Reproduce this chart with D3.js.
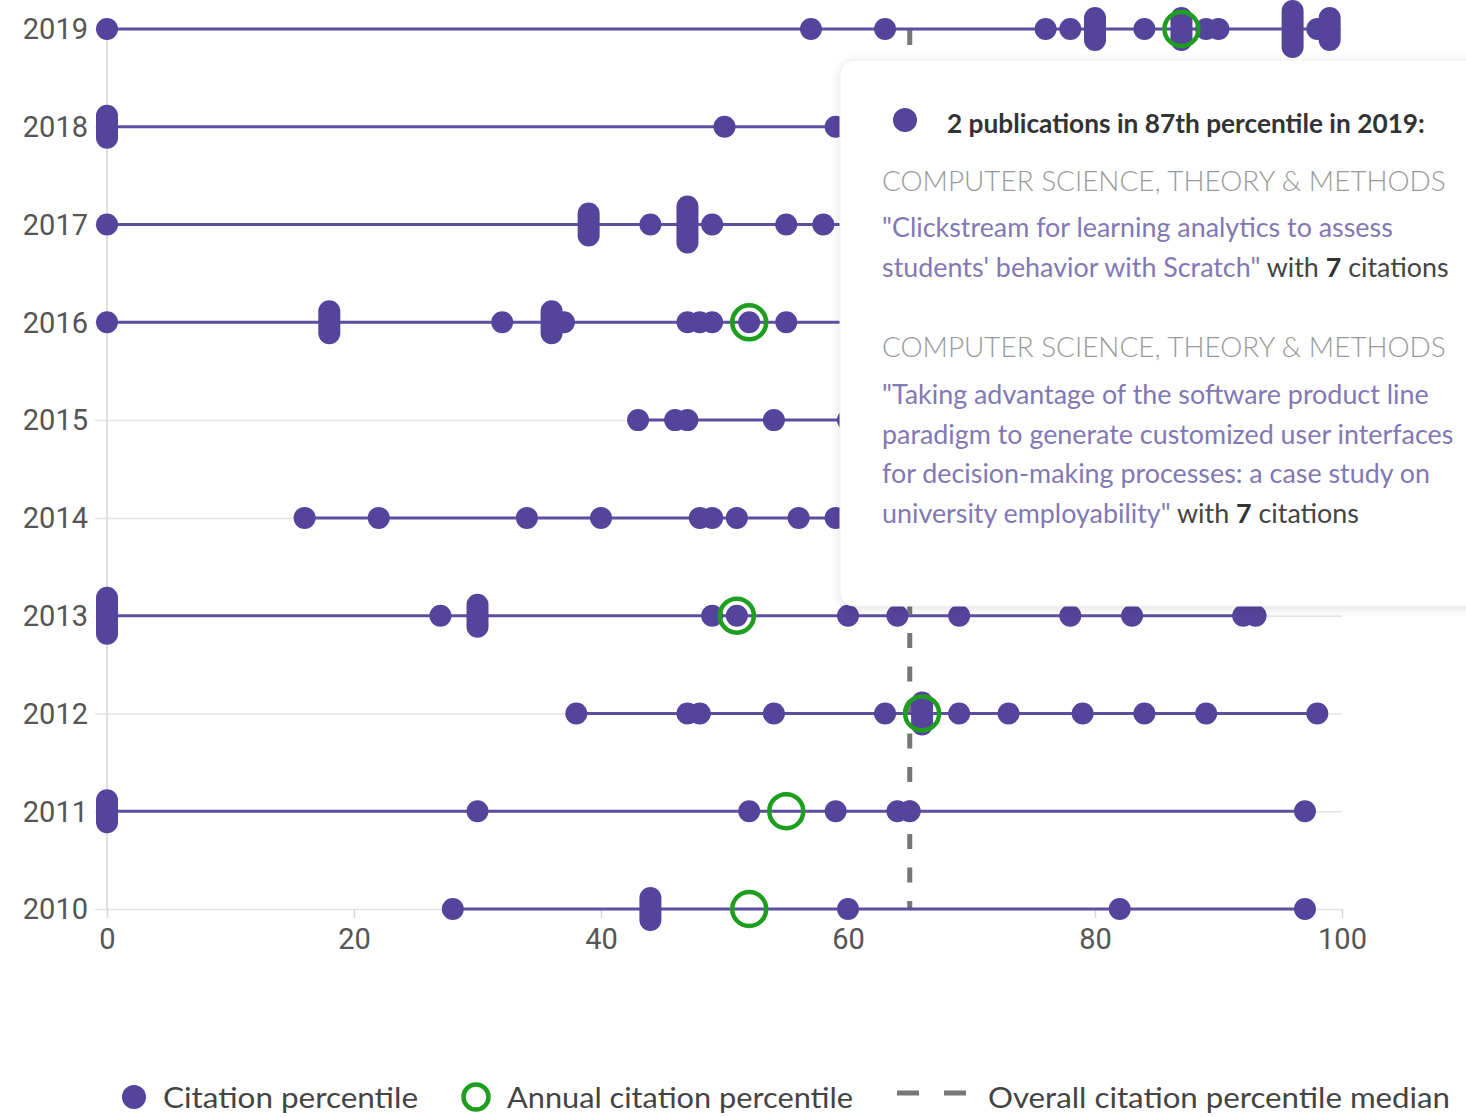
<!DOCTYPE html>
<html><head><meta charset="utf-8">
<script src="https://cdn.jsdelivr.net/npm/d3@7"></script>
<style>body{margin:0;background:#fff;} svg{display:block;}</style>
</head><body>
<svg id="chart" width="1466" height="1117"></svg>
<script>
// ---------- DATA ----------
const years = [2019, 2018, 2017, 2016, 2015, 2014, 2013, 2012, 2011, 2010];
// citation percentiles of each publication (repeated value = several publications at that percentile)
const pubs2019 = [0, 57, 63, 76, 78, 80, 80, 84, 87, 87, 89, 90, 96, 96, 96, 96, 98, 99, 99];
const pubs2018 = [0, 0, 50, 59, 75];          // right part hidden behind the tooltip (estimated)
const pubs2017 = [0, 39, 39, 44, 47, 47, 47, 47, 49, 55, 58, 70];
const pubs2016 = [0, 18, 18, 32, 36, 36, 37, 47, 48, 49, 52, 55, 68];
const pubs2015 = [43, 46, 47, 54, 60, 70];
const pubs2014 = [16, 22, 34, 40, 48, 49, 51, 56, 59, 70];
const pubs2013 = [0, 0, 0, 0, 27, 30, 30, 49, 51, 60, 64, 69, 78, 83, 92, 93];
const pubs2012 = [38, 47, 48, 54, 63, 66, 66, 69, 73, 79, 84, 89, 98];
const pubs2011 = [0, 0, 30, 52, 59, 64, 65, 97];
const pubs2010 = [28, 44, 44, 60, 82, 97];
const annualYears = [2019, 2016, 2013, 2012, 2011, 2010];
const annualValues = [87, 52, 51, 66, 55, 52];
const medianValue = 65;
const xTicks = [0, 20, 40, 60, 80, 100];
const legendLabels = ["Citation percentile", "Annual citation percentile", "Overall citation percentile median"];
const tooltipHeading = "2 publications in 87th percentile in 2019:";
const tooltipCategories = ["COMPUTER SCIENCE, THEORY & METHODS", "COMPUTER SCIENCE, THEORY & METHODS"];
const tooltipTitles = [
  ["\"Clickstream for learning analytics to assess", "students' behavior with Scratch\""],
  ["\"Taking advantage of the software product line", "paradigm to generate customized user interfaces", "for decision-making processes: a case study on", "university employability\""]
];
const tooltipCitations = [7, 7];

const pubsByYear = new Map([[2019,pubs2019],[2018,pubs2018],[2017,pubs2017],[2016,pubs2016],[2015,pubs2015],
  [2014,pubs2014],[2013,pubs2013],[2012,pubs2012],[2011,pubs2011],[2010,pubs2010]]);

// ---------- STYLE ----------
const PURPLE = "#54449b", LINE = "#5d4fa0", GREEN = "#1e9e1e", GRID = "#e4e4e4", AXIS_TXT = "#555";
const svg = d3.select("#chart");
const x = d3.scaleLinear().domain([0, 100]).range([107, 1342]);
const y = d3.scalePoint().domain(years).range([29, 909]);

const defs = svg.append("defs");
const f = defs.append("filter").attr("id","shadow").attr("x","-10%").attr("y","-10%").attr("width","120%").attr("height","120%");
f.append("feDropShadow").attr("dx",0).attr("dy",2).attr("stdDeviation",5).attr("flood-color","#000").attr("flood-opacity",0.12);

// gridlines / y axis
const yAxis = d3.axisLeft(y).tickSize(-(x(100) - 95)).tickPadding(8).tickFormat(d3.format("d"));
const gy = svg.append("g").attr("transform", `translate(${x(100)},0)`).call(yAxis);
gy.select(".domain").remove();
gy.selectAll(".tick line").attr("x1", 0).attr("x2", -(x(100) - 95)).attr("stroke", GRID).attr("stroke-width", 1.5);
gy.selectAll(".tick text").attr("x", -(x(100) - 88)).attr("text-anchor","end")
  .attr("font-family","Roboto").attr("font-size",29).attr("fill",AXIS_TXT).attr("dy","0.34em");

// x axis
const xAxis = d3.axisBottom(x).tickValues(xTicks).tickSize(9).tickPadding(10);
const gx = svg.append("g").attr("transform", `translate(0,${y(2010)})`).call(xAxis);
gx.select(".domain").remove();
gx.selectAll(".tick line").attr("stroke", "#d6d6d6").attr("stroke-width", 1.5);
gx.selectAll(".tick text").attr("font-family","Roboto").attr("font-size",29).attr("fill",AXIS_TXT);
// vertical zero line
svg.append("line").attr("x1", x(0)).attr("x2", x(0)).attr("y1", y(2019)).attr("y2", y(2010))
  .attr("stroke", "#d6d6d6").attr("stroke-width", 1.5);

// median dashed line
svg.append("line").attr("x1", x(medianValue)).attr("x2", x(medianValue)).attr("y1", y(2019)+1).attr("y2", y(2010))
  .attr("stroke", "#777").attr("stroke-width", 5).attr("stroke-dasharray", "15,18.5");

// rows
years.forEach(yr => {
  const vals = pubsByYear.get(yr);
  const cy = y(yr);
  const g = svg.append("g");
  g.append("line").attr("x1", x(d3.min(vals))).attr("x2", x(d3.max(vals))).attr("y1", cy).attr("y2", cy)
    .attr("stroke", LINE).attr("stroke-width", 3);
  const groups = d3.rollups(vals, v => v.length, d => d);
  groups.forEach(([v, n]) => {
    if (n === 1) {
      g.append("circle").attr("cx", x(v)).attr("cy", cy).attr("r", 11).attr("fill", PURPLE);
    } else {
      const s = 22 + (n - 2) * 7;
      g.append("line").attr("x1", x(v)).attr("x2", x(v)).attr("y1", cy - s/2).attr("y2", cy + s/2)
        .attr("stroke", PURPLE).attr("stroke-width", 22).attr("stroke-linecap", "round");
    }
  });
});

// annual rings
svg.append("g").selectAll("circle").data(annualYears.map((yr,i)=>({yr, v: annualValues[i]}))).join("circle")
  .attr("cx", d => x(d.v)).attr("cy", d => y(d.yr)).attr("r", 17)
  .attr("fill", "none").attr("stroke", GREEN).attr("stroke-width", 4.5);

// ---------- TOOLTIP ----------
const tt = svg.append("g");
tt.append("rect").attr("x", 840).attr("y", 60).attr("width", 700).attr("height", 546).attr("rx", 14)
  .attr("fill", "#fff").attr("stroke", "#efefef").attr("stroke-width", 1).attr("filter", "url(#shadow)");
tt.append("circle").attr("cx", 905).attr("cy", 120).attr("r", 12).attr("fill", PURPLE);

function fitSize(textSel, target, base) {
  textSel.attr("font-size", base);
  const w = textSel.node().getComputedTextLength();
  return base * target / w;
}
const head = tt.append("text").attr("x", 947).attr("y", 133).attr("font-family","Lato").attr("font-weight",700)
  .attr("fill","#333").text(tooltipHeading);
head.attr("font-size", fitSize(head, 478, 24));

const catBase = [191, 357];
const titleStart = [237, 404];
let catSize = null, titleSize = null;
tooltipCategories.forEach((cat, i) => {
  const t = tt.append("text").attr("x", 882).attr("y", catBase[i]).attr("font-family","Lato").attr("font-weight",300)
    .attr("fill","#9a9a9a").text(cat);
  if (catSize === null) catSize = fitSize(t, 564, 26);
  t.attr("font-size", catSize);
  tooltipTitles[i].forEach((line, j) => {
    const tl = tt.append("text").attr("x", 882).attr("y", titleStart[i] + j * 39.5).attr("font-family","Lato").attr("fill","#8278b4");
    const main = tl.append("tspan").text(line);
    if (titleSize === null) { titleSize = fitSize(tl, 511, 24); }
    tl.attr("font-size", titleSize);
    if (j === tooltipTitles[i].length - 1) {
      tl.append("tspan").attr("fill","#444").text(" with ");
      tl.append("tspan").attr("fill","#333").attr("font-weight",700).text(tooltipCitations[i]);
      tl.append("tspan").attr("fill","#444").text(" citations");
    }
  });
});

// ---------- LEGEND ----------
const lg = svg.append("g").attr("font-family","Lato").attr("font-size",29).attr("fill","#444");
const LY = 1098;
lg.append("circle").attr("cx", 134).attr("cy", LY - 1).attr("r", 12).attr("fill", PURPLE);
lg.append("circle").attr("cx", 476).attr("cy", LY - 1).attr("r", 12.5).attr("fill", "none").attr("stroke", GREEN).attr("stroke-width", 4.5);
lg.append("line").attr("x1", 897).attr("x2", 967).attr("y1", LY - 5).attr("y2", LY - 5).attr("stroke", "#777")
  .attr("stroke-width", 5).attr("stroke-dasharray", "22,25");
const legendX = [163, 507, 988], legendW = [255, 346, 462];
legendLabels.forEach((l, i) => {
  lg.append("text").attr("x", legendX[i]).attr("y", LY + 10).attr("textLength", legendW[i])
    .attr("lengthAdjust", "spacingAndGlyphs").text(l);
});
</script>
</body></html>
